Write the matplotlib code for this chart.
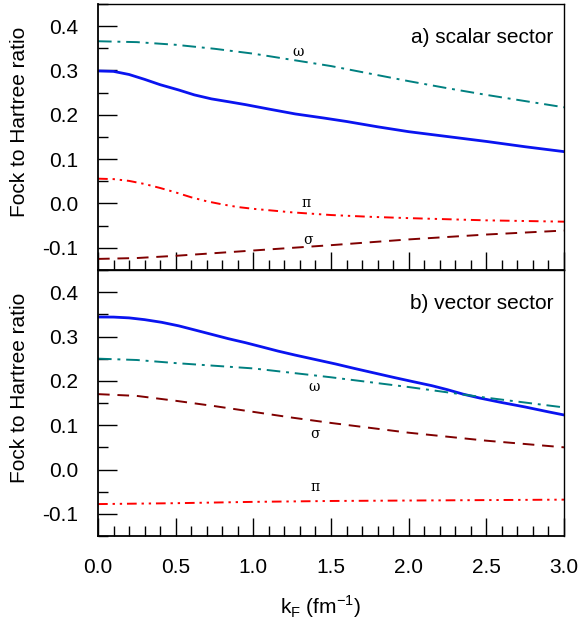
import numpy as np
import matplotlib
matplotlib.use("Agg")
import matplotlib.pyplot as plt
from matplotlib.ticker import MultipleLocator, FormatStrFormatter

plt.rcParams['font.family'] = ['Liberation Sans', 'DejaVu Sans']
plt.rcParams['mathtext.fontset'] = 'custom'
plt.rcParams['mathtext.rm'] = 'Liberation Sans'

# ---- data: scalar sector (a) ----
kf_a_total = [0.0, 0.1, 0.2, 0.3, 0.4, 0.52, 0.62, 0.73, 0.85, 0.95, 1.1, 1.27, 1.45,
              1.6, 1.8, 2.0, 2.25, 2.5, 2.75, 3.0]
a_total = [0.299, 0.298, 0.291, 0.280, 0.268, 0.256, 0.245, 0.236, 0.229, 0.223, 0.213,
           0.202, 0.193, 0.185, 0.173, 0.162, 0.151, 0.140, 0.128, 0.117]

kf_a_omega = [0.0, 0.25, 0.5, 0.75, 1.0, 1.25, 1.5, 1.75, 2.0, 2.25, 2.5, 2.75, 3.0]
a_omega = [0.366, 0.364, 0.358, 0.349, 0.338, 0.324, 0.310, 0.293, 0.276, 0.260, 0.245,
           0.231, 0.217]

kf_a_pi = [0.0, 0.1, 0.2, 0.3, 0.4, 0.5, 0.6, 0.7, 0.8, 0.9, 1.0, 1.25, 1.5, 1.75, 2.0,
           2.5, 3.0]
a_pi = [0.056, 0.055, 0.051, 0.044, 0.035, 0.025, 0.014, 0.005, -0.002, -0.008, -0.012,
        -0.020, -0.026, -0.030, -0.033, -0.038, -0.041]

kf_a_sigma = [0.0, 0.25, 0.5, 1.0, 1.5, 2.0, 2.5, 3.0]
a_sigma = [-0.125, -0.123, -0.118, -0.106, -0.094, -0.081, -0.070, -0.061]

# ---- data: vector sector (b) ----
kf_b_total = [0.0, 0.1, 0.2, 0.3, 0.41, 0.52, 0.62, 0.73, 0.84, 0.95, 1.05, 1.16, 1.27,
              1.4, 1.53, 1.65, 1.8, 1.9, 2.03, 2.15, 2.25, 2.35, 2.46, 2.6, 2.75, 2.9, 3.0]
b_total = [0.344, 0.3438, 0.342, 0.338, 0.332, 0.324, 0.315, 0.305, 0.295, 0.286, 0.277,
           0.267, 0.258, 0.248, 0.238, 0.228, 0.216, 0.208, 0.198, 0.189, 0.180, 0.170,
           0.161, 0.151, 0.141, 0.130, 0.123]

kf_b_omega = [0.0, 0.25, 0.5, 1.0, 1.5, 2.0, 2.5, 3.0]
b_omega = [0.250, 0.247, 0.240, 0.228, 0.208, 0.186, 0.162, 0.140]

kf_b_sigma = [0.0, 0.25, 0.5, 0.75, 1.0, 1.25, 1.5, 2.0, 2.5, 3.0]
b_sigma = [0.170, 0.166, 0.155, 0.143, 0.130, 0.117, 0.105, 0.083, 0.065, 0.050]

kf_b_pi = [0.0, 0.5, 1.0, 1.5, 2.0, 2.5, 3.0]
b_pi = [-0.078, -0.076, -0.073, -0.071, -0.070, -0.069, -0.068]

xticks = [0.0, 0.5, 1.0, 1.5, 2.0, 2.5, 3.0]
yticks = [-0.1, 0.0, 0.1, 0.2, 0.3, 0.4]

BLUE = '#0a14f0'
TEAL = '#008080'
RED = '#ff0000'
BROWN = '#800000'

fig = plt.figure(figsize=(5.81, 6.25), dpi=100)
L, R = 98 / 581, 564 / 581
ax_a = fig.add_axes([L, 1 - 270 / 625, R - L, 266 / 625])
ax_b = fig.add_axes([L, 1 - 536 / 625, R - L, 266 / 625])

def style(ax, show_xlabels):
    ax.set_xlim(0, 3.0)
    ax.set_ylim(-0.15, 0.45)
    ax.set_xticks(xticks)
    ax.set_yticks(yticks)
    ax.xaxis.set_minor_locator(MultipleLocator(0.1))
    ax.yaxis.set_minor_locator(MultipleLocator(0.05))
    ax.tick_params(axis='both', which='both', direction='in', top=False, right=False,
                   width=1.0, labelsize=15)
    ax.tick_params(axis='x', which='major', length=13, pad=16)
    ax.tick_params(axis='x', which='minor', length=7)
    ax.tick_params(axis='y', which='major', length=13.5, pad=14)
    ax.tick_params(axis='y', which='minor', length=7)
    ax.yaxis.set_major_formatter(FormatStrFormatter('%.1f'))
    ax.xaxis.set_major_formatter(FormatStrFormatter('%.1f'))
    if not show_xlabels:
        ax.tick_params(axis='x', labelbottom=False)
    for s in ax.spines.values():
        s.set_linewidth(1.0)
    ax.spines['left'].set_linewidth(1.3)
    ax.spines['bottom'].set_linewidth(1.3)
    ax.set_ylabel('Fock to Hartree ratio', fontsize=15)
    ax.yaxis.set_label_coords(-0.148, 0.556)

dashdot = (0, (7, 3, 1.5, 3))
dashdotdot = (0, (5, 2.5, 1.2, 2.5, 1.2, 2.5))
dashed = (0, (6, 4))

# panel a
ax_a.plot(kf_a_total, a_total, color=BLUE, lw=2.0, ls='-')
ax_a.plot(kf_a_omega, a_omega, color=TEAL, lw=1.4, ls=dashdot)
ax_a.plot(kf_a_pi, a_pi, color=RED, lw=1.4, ls=dashdotdot)
ax_a.plot(kf_a_sigma, a_sigma, color=BROWN, lw=1.4, ls=dashed)
style(ax_a, False)
serif = ['DejaVu Serif']
ax_a.text(1.29, 0.341, 'ω', fontsize=10, family=serif, ha='center', va='center')
ax_a.text(1.34, 0.001, 'π', fontsize=10, family=serif, ha='center', va='center')
ax_a.text(1.35, -0.083, 'σ', fontsize=10, family=serif, ha='center', va='center')
ax_a.text(2.93, 0.375, 'a) scalar sector', fontsize=15, ha='right', va='center')

# panel b
ax_b.plot(kf_b_total, b_total, color=BLUE, lw=2.0, ls='-')
ax_b.plot(kf_b_omega, b_omega, color=TEAL, lw=1.4, ls=dashdot)
ax_b.plot(kf_b_sigma, b_sigma, color=BROWN, lw=1.4, ls=dashed)
ax_b.plot(kf_b_pi, b_pi, color=RED, lw=1.4, ls=dashdotdot)
style(ax_b, True)
ax_b.text(1.39, 0.186, 'ω', fontsize=10, family=serif, ha='center', va='center')
ax_b.text(1.40, 0.081, 'σ', fontsize=10, family=serif, ha='center', va='center')
ax_b.text(1.40, -0.039, 'π', fontsize=10, family=serif, ha='center', va='center')
ax_b.text(2.93, 0.375, 'b) vector sector', fontsize=15, ha='right', va='center')
ax_b.set_xlabel(r'k$_\mathregular{F}$ (fm$^\mathregular{-1}$)', fontsize=15)
ax_b.xaxis.set_label_coords(0.478, -0.215)

fig.savefig('out.png', dpi=100)
